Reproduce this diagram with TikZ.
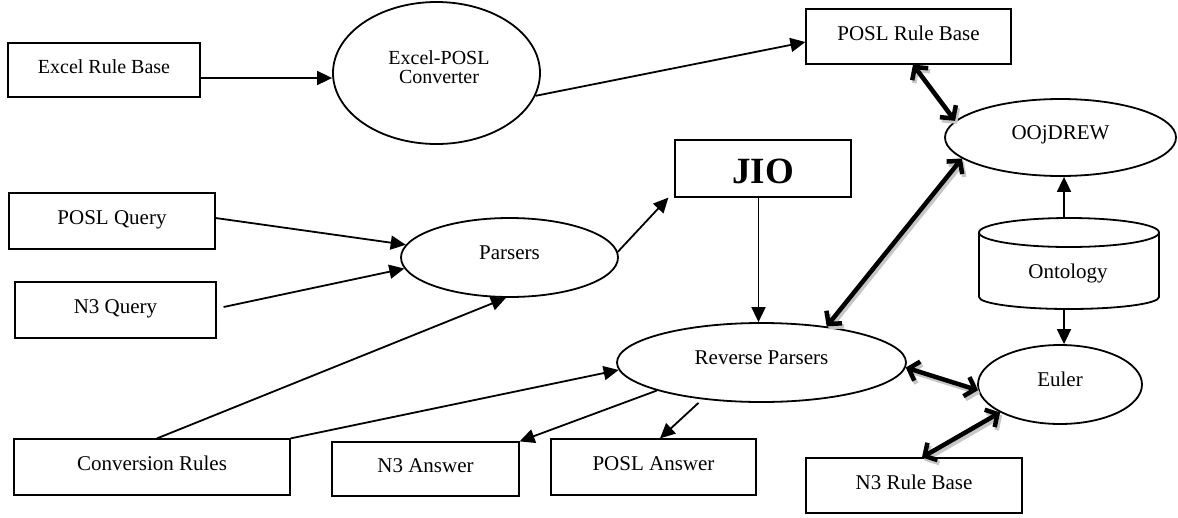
\documentclass[tikz,border=0pt]{standalone}
\usepackage{fontspec}
\setmainfont{Liberation Serif}
\usetikzlibrary{arrows.meta,calc,shapes.geometric}
\newcommand\dtxt{\fontsize{21}{23}\selectfont}
\newcommand\etxt{\fontsize{20}{22}\selectfont}
\begin{document}
\begin{tikzpicture}[x=1pt,y=-1pt,
  box/.style={draw,line width=1.2pt,rectangle,inner sep=0pt,font=\dtxt,text height=14pt,text depth=7pt},
  ell/.style={draw,line width=1.8pt,ellipse,inner sep=0pt,font=\dtxt,text height=14pt,text depth=10pt},
  arr/.style={line width=1.8pt,-{Triangle[length=15pt,width=14pt]}},
  dbl/.style={line width=4.5pt,{Straight Barb[length=9pt,width=20pt]}-{Straight Barb[length=9pt,width=20pt]}},
  dblshadow/.style={dbl,draw=gray!45,transform canvas={shift={(2pt,-3pt)}}},
  cylst/.style={draw,line width=1.8pt}
]
\fill[white] (0,0) rectangle (1178,517);
\useasboundingbox (0,0) rectangle (1178,517);
\newcommand\dblarrow[2]{\draw[dblshadow] #1 -- #2; \draw[dbl] #1 -- #2;}

% boxes
\node[box,minimum width=192pt,minimum height=54pt,font=\etxt] (erb) at (104,70) {Excel Rule Base};
\node[box,minimum width=205pt,minimum height=55pt] (prb) at (908.5,36.5) {POSL Rule Base};
\node[box,minimum width=206pt,minimum height=56pt] (pq) at (112,221) {POSL Query};
\node[box,minimum width=201pt,minimum height=56pt] (n3q) at (115.5,310) {N3 Query};
\node[box,minimum width=276pt,minimum height=56pt] (cr) at (152,467) {Conversion Rules};
\node[box,minimum width=187pt,minimum height=54pt] (n3a) at (425.5,469) {N3 Answer};
\node[box,minimum width=205pt,minimum height=56pt] (pa) at (653.5,467) {POSL Answer};
\node[box,minimum width=216pt,minimum height=55pt] (n3rb) at (914,485.5) {N3 Rule Base};
\node[box,minimum width=176pt,minimum height=57pt,font=\fontsize{37}{40}\selectfont\bfseries,text height=32pt,text depth=3pt] (jio) at (763,168.5) {JIO};

% ellipses
\node[ell,minimum width=207pt,minimum height=142pt] (conv) at (436.5,73) {};
\node[font=\fontsize{20}{19}\selectfont,align=center,inner sep=0pt] (convt) at (439,67) {Excel-POSL\\Converter};
\node[ell,minimum width=217pt,minimum height=79pt] (pars) at (509.5,257.5) {Parsers};
\node[ell,minimum width=289pt,minimum height=79pt] (rp) at (761.5,362.5) {Reverse Parsers};
\node[ell,minimum width=231pt,minimum height=77pt] (oo) at (1060.5,137.5) {OOjDREW};
\node[ell,minimum width=164pt,minimum height=79pt] (eul) at (1060,384.5) {Euler};

% cylinder
\node[minimum width=180pt,minimum height=91pt,inner sep=0pt] (ont) at (1069,263.5) {};
\draw[cylst] (979,232.5) -- (979,297) arc[start angle=180,end angle=360,x radius=90pt,y radius=12pt] -- (1159,232.5);
\draw[cylst] (1069,232.5) ellipse [x radius=90pt,y radius=14.5pt];
\node[font=\dtxt,inner sep=0pt,text height=14pt,text depth=7pt] (ontt) at (1068,274.5) {Ontology};

% thin arrows
\draw[arr] ([yshift=-8pt]erb.east) -- ([yshift=-8pt]erb.east -| conv.west);
\draw[arr] (conv.-13) -- ([yshift=-5.5pt]prb.west);
\draw[arr] (pars.3) -- ([xshift=-6pt]jio.south west);
\draw[arr] ([yshift=3pt]pq.east) -- (pars.173);
\draw[arr] ([xshift=7pt,yshift=3pt]n3q.east) -- (pars.186);
\draw[arr] ([xshift=5pt]cr.north) -- (pars.265);
\draw[arr] (cr.north east) -- (rp.183);
\draw[arr] (rp.195) -- (n3a.north east);
\draw[arr] ([yshift=-4pt]rp.210) -- ([xshift=6.5pt]pa.north);
\draw[arr] ([xshift=-4.5pt]jio.south) -- ([xshift=-4.5pt]jio.south |- rp.north);
\draw[arr] ([xshift=-5pt]ont.north) -- ([xshift=-5pt]ont.north |- oo.south);
\draw[arr] ([xshift=-5pt]ont.south) -- ([xshift=-5pt]ont.south |- eul.north);

% thick double arrows
\dblarrow{([xshift=4.5pt]prb.south)}{(oo.171)}
\dblarrow{(oo.192)}{(rp.29)}
\dblarrow{(rp.-2)}{(eul.184)}
\dblarrow{([xshift=8pt]n3rb.north)}{(eul.205)}
\end{tikzpicture}
\end{document}
